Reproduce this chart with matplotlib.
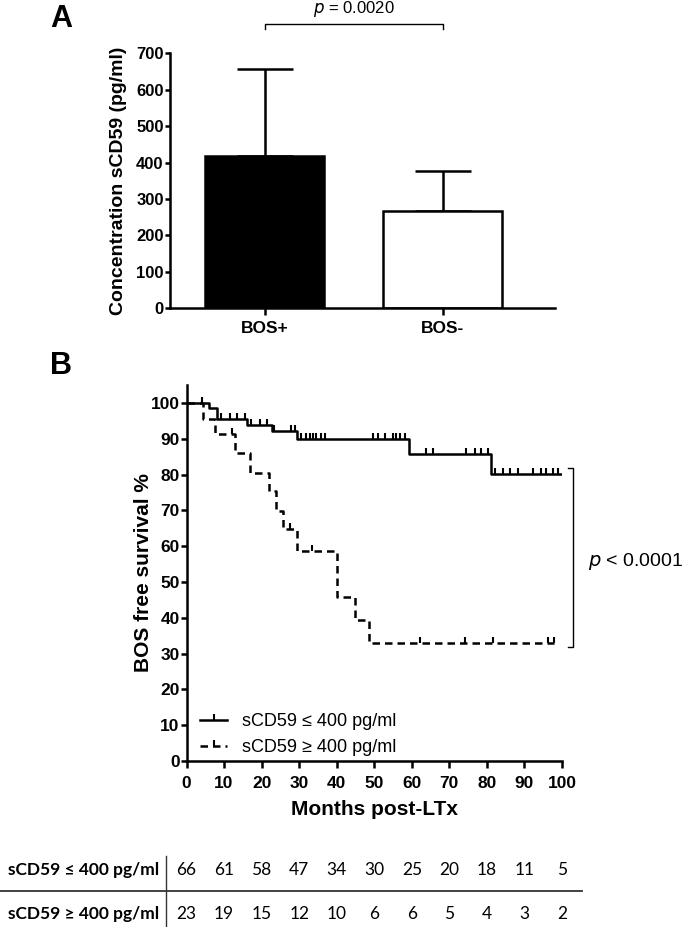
import matplotlib
matplotlib.use("Agg")
import matplotlib.pyplot as plt
from matplotlib.lines import Line2D
import matplotlib.transforms as mtransforms

# ---------------- data ----------------
groups = ["BOS+", "BOS-"]
means = [419, 268]
sd_upper = [238, 110]
p_bar = "0.0020"

# Kaplan-Meier: sCD59 <= 400
low_times = [0, 6.0, 8.0, 16.0, 22.9, 29.5, 59.3, 81.2]
low_surv = [100, 98.5, 95.5, 93.9, 92.1, 89.8, 85.7, 80.1]
low_end = 99.8
low_cens_t = [4.0, 9.3, 11.5, 13.5, 15.5, 17.3, 19.5, 21.5, 23.2, 27.9, 28.8,
              30.6, 31.9, 32.8, 33.7, 34.6, 35.9, 36.8,
              49.7, 51.0, 52.8, 55.0, 55.9, 56.8, 58.1,
              63.9, 65.7, 74.5, 76.8, 78.5, 80.3,
              82.1, 84.3, 86.1, 88.3, 92.3, 94.5, 95.8, 97.6, 98.9]

# Kaplan-Meier: sCD59 >= 400
high_times = [0, 4.3, 7.6, 12.9, 17.0, 22.0, 23.9, 25.7, 29.5, 40.1, 44.8, 48.6]
high_surv = [100, 95.6, 91.3, 86.0, 80.5, 75.3, 69.8, 64.7, 58.7, 45.8, 39.4, 32.9]
high_end = 97.8
high_cens_t = [12.0, 27.6, 33.3, 62.1, 74.1, 81.6, 96.3, 97.8]

p_km = "0.0001"

risk_times = [0, 10, 20, 30, 40, 50, 60, 70, 80, 90, 100]
risk_low = [66, 61, 58, 47, 34, 30, 25, 20, 18, 11, 5]
risk_high = [23, 19, 15, 12, 10, 6, 6, 5, 4, 3, 2]
label_low = "sCD59 \u2264 400 pg/ml"
label_high = "sCD59 \u2265 400 pg/ml"


def surv_at(t, times, surv):
    s = surv[0]
    for tt, ss in zip(times, surv):
        if tt <= t:
            s = ss
    return s


plt.rcParams['font.family'] = ['Liberation Sans', 'DejaVu Sans']
W, H = 685, 927
LW = 1.8
fig = plt.figure(figsize=(W / 100, H / 100), dpi=100)

# ---------------- Panel A ----------------
axA = fig.add_axes([170 / W, 1 - 308.3 / H, (555 - 170) / W, (308.3 - 53.3) / H])
xpos = [0, 1]
axA.bar(xpos, means, width=0.674, color=["black", "white"], edgecolor="black",
        linewidth=LW, zorder=2)
axA.errorbar(xpos, means, yerr=[[0, 0], sd_upper], fmt="none", ecolor="black",
             elinewidth=LW, capsize=20, capthick=LW, zorder=1)
axA.set_xlim(-0.531, 1.632)
axA.set_ylim(0, 700)
axA.set_yticks(range(0, 701, 100))
axA.set_xticks(xpos)
axA.set_xticklabels(groups, fontsize=12.5, fontweight="bold")
for lab in axA.get_yticklabels():
    lab.set_fontweight("bold")
    lab.set_fontsize(12)
axA.spines["top"].set_visible(False)
axA.spines["right"].set_visible(False)
for s in ["left", "bottom"]:
    axA.spines[s].set_linewidth(LW)
axA.tick_params(axis="y", width=LW, length=3.5, pad=1)
axA.tick_params(axis="x", width=LW, length=5, pad=4.5)
axA.set_ylabel("Concentration sCD59 (pg/ml)", fontsize=14, fontweight="bold")
axA.yaxis.set_label_coords(-0.112, 0.5)
# significance bracket
axA.plot([0, 0, 1, 1], [767, 780, 780, 767], color="black", lw=1.0, clip_on=False)
axA.text(0.5, 822, "$\\it{p}$ = " + p_bar, ha="center", va="center", fontsize=12)
fig.text(61 / W, 1 - 19 / H, "A", fontsize=22, fontweight="bold", ha="center", va="center")

# ---------------- Panel B ----------------
axB = fig.add_axes([186.5 / W, 1 - 761 / H, (562 - 186.5) / W, (761 - 385) / H])
axB.step(low_times + [low_end], low_surv + [low_surv[-1]], where="post",
         color="black", lw=LW, zorder=3)
axB.step(high_times + [high_end], high_surv + [high_surv[-1]], where="post",
         color="black", lw=LW, linestyle=(0, (3, 2)), zorder=3)
axB.plot(low_cens_t, [surv_at(t, low_times, low_surv) for t in low_cens_t],
         linestyle="none", marker=2, markersize=4.5, mew=1.5, color="black", zorder=4)
axB.plot(high_cens_t, [surv_at(t, high_times, high_surv) for t in high_cens_t],
         linestyle="none", marker=2, markersize=4.5, mew=1.5, color="black", zorder=4)
axB.set_xlim(0, 100)
axB.set_ylim(0, 105)
axB.set_xticks(range(0, 101, 10))
axB.set_yticks(range(0, 101, 10))
for lab in axB.get_xticklabels() + axB.get_yticklabels():
    lab.set_fontweight("bold")
    lab.set_fontsize(12.5)
axB.spines["top"].set_visible(False)
axB.spines["right"].set_visible(False)
for s in ["left", "bottom"]:
    axB.spines[s].set_linewidth(LW)
axB.tick_params(axis="y", width=LW, length=4, pad=1)
axB.tick_params(axis="x", width=LW, length=5, pad=5.5)
axB.set_ylabel("BOS free survival %", fontsize=15, fontweight="bold")
axB.yaxis.set_label_coords(-0.09, 0.5)
axB.set_xlabel("Months post-LTx", fontsize=15, fontweight="bold")
axB.xaxis.set_label_coords(0.5, -0.105)

h1 = Line2D([], [], color="black", lw=LW, marker=2, markersize=4.5, mew=1.5)
h2 = Line2D([], [], color="black", lw=LW, linestyle=(0, (3, 2)), marker=2,
            markersize=4.5, mew=1.5)
axB.legend([h1, h2], [label_low, label_high], loc="lower left",
           bbox_to_anchor=(0.036, 0.012), frameon=False, fontsize=13,
           handlelength=1.5, handletextpad=0.85, labelspacing=0.5,
           borderpad=0, borderaxespad=0, numpoints=1)

# log-rank bracket
axB.plot([101.6, 103.0, 103.0, 101.6], [81.8, 81.8, 31.9, 31.9], color="black",
         lw=1.0, clip_on=False)
axB.text(106.9, 55.7, "$\\it{p}$ < " + p_km, ha="left", va="center", fontsize=14)
fig.text(61 / W, 1 - 366 / H, "B", fontsize=22, fontweight="bold", ha="center", va="center")

# ---------------- risk table ----------------
tr = mtransforms.blended_transform_factory(axB.transData, fig.transFigure)
y1, y2 = 1 - 870 / H, 1 - 914 / H
tfam = ["Lato", "DejaVu Sans"]
for t, a, b in zip(risk_times, risk_low, risk_high):
    fig.text(t, y1, str(a), transform=tr, ha="center", va="center", fontsize=12.5, family=tfam)
    fig.text(t, y2, str(b), transform=tr, ha="center", va="center", fontsize=12.5, family=tfam)
fig.text(159 / W, y1, label_low, ha="right", va="center", fontsize=12.5,
         fontweight="bold", family=tfam)
fig.text(159 / W, y2, label_high, ha="right", va="center", fontsize=12.5,
         fontweight="bold", family=tfam)
fig.add_artist(Line2D([165.7 / W, 165.7 / W], [1 - 856 / H, 0], color="#333333", lw=1.0))
fig.add_artist(Line2D([0, 582 / W], [1 - 891 / H, 1 - 891 / H], color="#333333", lw=1.3))

fig.savefig("out.png", dpi=100)
